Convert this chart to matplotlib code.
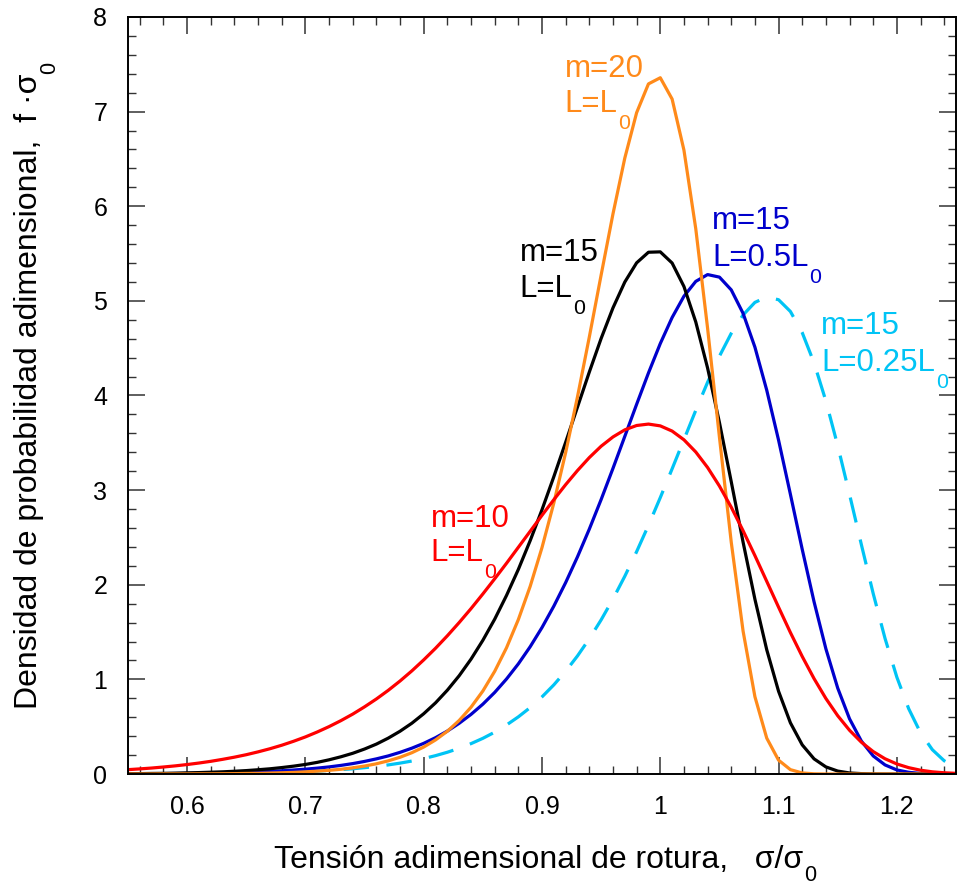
import numpy as np
import matplotlib
matplotlib.use("Agg")
import matplotlib.pyplot as plt

plt.rcParams['font.family'] = ['Liberation Sans', 'DejaVu Sans']

# sample grid of sigma/sigma0 (0.55 .. 1.25, step 0.01)
sigma = np.linspace(0.55, 1.25, 71)

# f*sigma0
m10_L0 = [0.046, 0.054, 0.063, 0.074, 0.086, 0.100, 0.116, 0.134, 0.155, 0.178,
          0.204, 0.234, 0.267, 0.304, 0.346, 0.392, 0.444, 0.501, 0.564, 0.633,
          0.710, 0.793, 0.884, 0.983, 1.090, 1.206, 1.329, 1.461, 1.601, 1.748,
          1.903, 2.063, 2.227, 2.396, 2.565, 2.734, 2.899, 3.058, 3.207, 3.344,
          3.464, 3.562, 3.637, 3.683, 3.698, 3.679, 3.624, 3.532, 3.403, 3.239,
          3.043, 2.819, 2.571, 2.308, 2.036, 1.763, 1.495, 1.242, 1.008, 0.798,
          0.616, 0.462, 0.336, 0.237, 0.161, 0.106, 0.067, 0.040, 0.023, 0.013,
          0.007]
m15_L0 = [0.003, 0.004, 0.006, 0.007, 0.009, 0.012, 0.015, 0.019, 0.023, 0.029,
          0.036, 0.045, 0.055, 0.068, 0.083, 0.101, 0.123, 0.150, 0.182, 0.219,
          0.264, 0.316, 0.379, 0.452, 0.537, 0.637, 0.752, 0.886, 1.039, 1.214,
          1.413, 1.636, 1.887, 2.162, 2.466, 2.793, 3.142, 3.506, 3.878, 4.248,
          4.603, 4.926, 5.199, 5.402, 5.514, 5.518, 5.400, 5.152, 4.777, 4.290,
          3.715, 3.088, 2.450, 1.847, 1.313, 0.874, 0.541, 0.308, 0.160, 0.075,
          0.031, 0.011, 0.004, 0.001, 0.000, 0.0, 0.0, 0.0, 0.0, 0.0,
          0.0]
m20_L0 = [0.000, 0.000, 0.000, 0.001, 0.001, 0.001, 0.002, 0.002, 0.003, 0.004,
          0.006, 0.007, 0.010, 0.013, 0.017, 0.023, 0.030, 0.039, 0.050, 0.065,
          0.084, 0.108, 0.139, 0.177, 0.225, 0.285, 0.360, 0.452, 0.566, 0.706,
          0.877, 1.085, 1.334, 1.632, 1.983, 2.393, 2.864, 3.397, 3.986, 4.618,
          5.274, 5.919, 6.509, 6.989, 7.293, 7.358, 7.133, 6.593, 5.762, 4.710,
          3.560, 2.449, 1.510, 0.817, 0.379, 0.146, 0.046, 0.011, 0.002, 0.000,
          0.0, 0.0, 0.0, 0.0, 0.0, 0.0, 0.0, 0.0, 0.0, 0.0,
          0.0]
m15_05L0 = [0.002, 0.002, 0.003, 0.004, 0.005, 0.006, 0.007, 0.009, 0.012, 0.015,
            0.018, 0.022, 0.028, 0.034, 0.042, 0.051, 0.062, 0.075, 0.091, 0.110,
            0.133, 0.160, 0.191, 0.229, 0.273, 0.324, 0.384, 0.454, 0.536, 0.630,
            0.738, 0.862, 1.004, 1.164, 1.345, 1.548, 1.774, 2.023, 2.295, 2.588,
            2.901, 3.230, 3.568, 3.907, 4.238, 4.549, 4.824, 5.049, 5.206, 5.278,
            5.251, 5.116, 4.868, 4.511, 4.056, 3.528, 2.956, 2.374, 1.820, 1.323,
            0.908, 0.583, 0.348, 0.191, 0.096, 0.043, 0.018, 0.006, 0.002, 0.001,
            0.000]
m15_025L0 = [0.001, 0.001, 0.001, 0.002, 0.002, 0.003, 0.004, 0.005, 0.006, 0.007,
             0.009, 0.011, 0.014, 0.017, 0.021, 0.025, 0.031, 0.038, 0.046, 0.055,
             0.067, 0.080, 0.096, 0.115, 0.137, 0.163, 0.194, 0.230, 0.272, 0.321,
             0.377, 0.442, 0.518, 0.604, 0.702, 0.815, 0.942, 1.086, 1.248, 1.429,
             1.629, 1.849, 2.090, 2.350, 2.628, 2.921, 3.225, 3.534, 3.843, 4.140,
             4.415, 4.657, 4.851, 4.984, 5.041, 5.012, 4.888, 4.664, 4.345, 3.942,
             3.470, 2.954, 2.424, 1.907, 1.433, 1.023, 0.690, 0.436, 0.257, 0.140,
             0.070]

xticks = [0.6, 0.7, 0.8, 0.9, 1.0, 1.1, 1.2]
xticklabels = ['0.6', '0.7', '0.8', '0.9', '1', '1.1', '1.2']

ORANGE = '#ff8a1a'
BLUE = '#0000cc'
CYAN = '#00c4f5'
RED = '#ff0000'

LABEL_FS = 23
NOTE_FS = 22.5
SUB_SCALE = 0.68


def add_sub(ax, txt, sub, fs, color='black', rotated=False, drop=3.5):
    """Hang a lowered subscript off the end of an existing text artist."""
    if rotated:
        return ax.annotate(sub, xy=(1, 1), xycoords=txt, xytext=(-3.5, 0),
                           textcoords='offset points', rotation=90,
                           ha='left', va='bottom', fontsize=fs * SUB_SCALE,
                           color=color, annotation_clip=False)
    return ax.annotate(sub, xy=(1, 0), xycoords=txt, xytext=(0.5, drop),
                       textcoords='offset points', ha='left', va='top',
                       fontsize=fs * SUB_SCALE, color=color,
                       annotation_clip=False)


fig = plt.figure(figsize=(9.57, 8.88), dpi=100)
ax = fig.add_axes([128 / 957, 114 / 888, 828 / 957, 757 / 888])

lw = 2.3
ax.plot(sigma, m15_025L0, color=CYAN, lw=lw, linestyle=(0, (8, 5.5)))
ax.plot(sigma, m15_05L0, color=BLUE, lw=lw)
ax.plot(sigma, m15_L0, color='black', lw=lw)
ax.plot(sigma, m20_L0, color=ORANGE, lw=lw)
ax.plot(sigma, m10_L0, color=RED, lw=lw)

ax.set_xlim(0.55, 1.25)
ax.set_ylim(0, 8)
ax.set_xticks(xticks)
ax.set_xticklabels(xticklabels)
ax.set_yticks(range(0, 9))
ax.set_xticks(np.arange(0.56, 1.25, 0.02), minor=True)
ax.set_yticks(np.arange(0, 8.01, 0.2), minor=True)
ax.tick_params(which='both', direction='in', top=True, right=True,
               labelsize=18, color='#333333')
ax.tick_params(which='major', length=12, width=1.1, pad=15)
ax.tick_params(which='minor', length=6, width=1.0)
for s in ax.spines.values():
    s.set_linewidth(1.4)

ax.set_xlabel('Tensión adimensional de rotura,   σ/σ', fontsize=LABEL_FS)
ax.xaxis.set_label_coords(0.496, -0.094)
ax.set_ylabel('Densidad de probabilidad adimensional,  f ·σ', fontsize=LABEL_FS)
ax.yaxis.set_label_coords(-0.101, 0.505)
add_sub(ax, ax.xaxis.label, '0', LABEL_FS, drop=7)
add_sub(ax, ax.yaxis.label, '0', LABEL_FS, rotated=True)

# curve annotations
labels = [
    (0.919, 7.37, 7.00, 'm=20', 'L=L', ORANGE),
    (0.881, 5.42, 5.04, 'm=15', 'L=L', 'black'),
    (1.044, 5.76, 5.37, 'm=15', 'L=0.5L', BLUE),
    (1.136, 4.65, 4.26, 'm=15', 'L=0.25L', CYAN),
    (0.806, 2.61, 2.25, 'm=10', 'L=L', RED),
]
for x, y1, y2, t1, t2, c in labels:
    ax.text(x, y1, t1, color=c, fontsize=NOTE_FS, ha='left', va='baseline')
    t = ax.text(x, y2, t2, color=c, fontsize=NOTE_FS, ha='left', va='baseline')
    add_sub(ax, t, '0', NOTE_FS, color=c)

fig.savefig('out.png', dpi=100)
